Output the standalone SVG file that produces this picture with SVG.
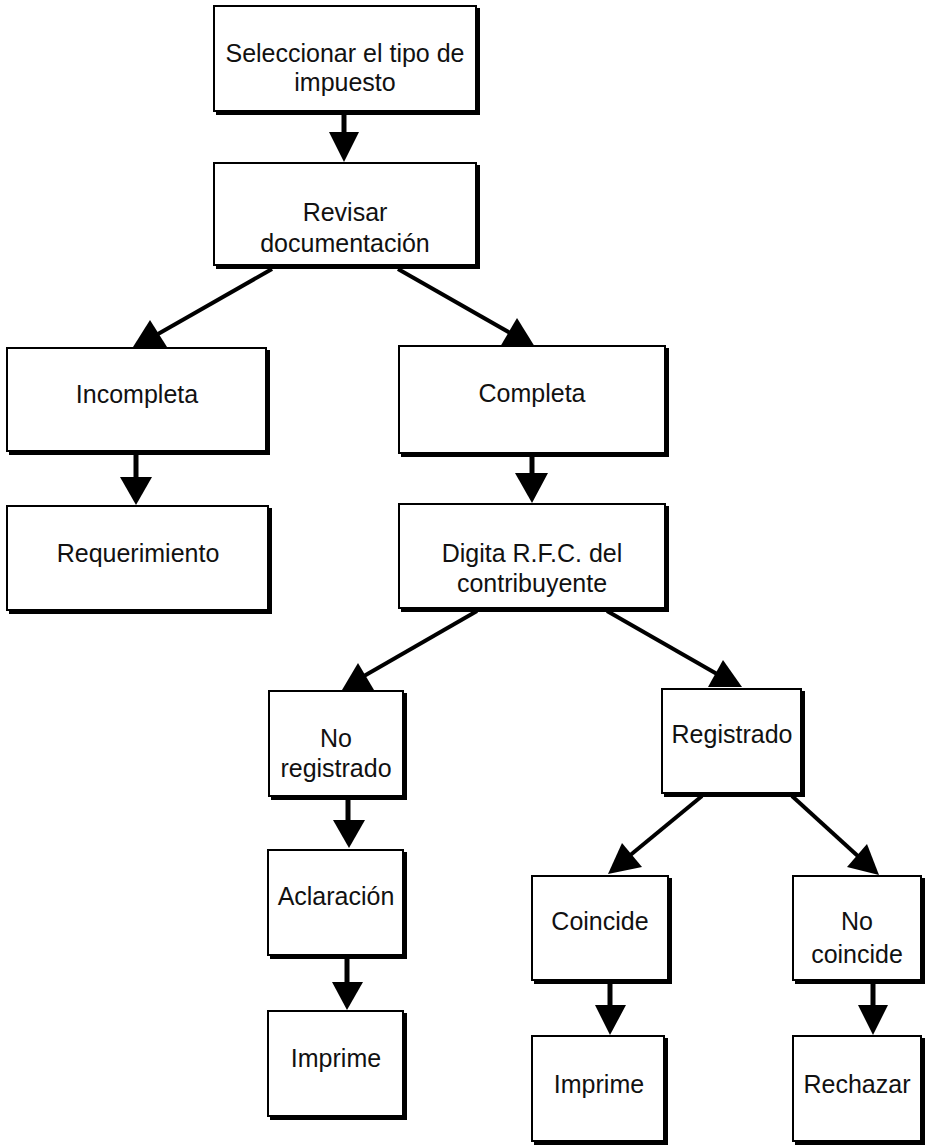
<svg xmlns="http://www.w3.org/2000/svg" width="926" height="1146" viewBox="0 0 926 1146">
<style>
.shadow{fill:#000}
.box{fill:#fff;stroke:#000;stroke-width:2}
.t{font-family:"Liberation Sans",Arial,sans-serif;font-size:25px;fill:#111;text-anchor:middle}
.ln{stroke:#000;stroke-width:4;fill:none}
.sh{stroke:#000;stroke-width:5;fill:none}
.hd{fill:#000}
</style>
<rect width="926" height="1146" fill="#fff"/>
<g id="connectors">
<line class="sh" x1="344" y1="113" x2="344" y2="135"/>
<polygon class="hd" points="329,132 359,132 344,162"/>
<line class="ln" x1="272" y1="269" x2="158" y2="334"/>
<polygon class="hd" points="150,320 133,347 167,347"/>
<line class="ln" x1="398" y1="269" x2="512" y2="334"/>
<polygon class="hd" points="517,318 500,347 535,347"/>
<line class="sh" x1="136" y1="453" x2="136" y2="480"/>
<polygon class="hd" points="120,477 152,477 136,505"/>
<line class="sh" x1="532" y1="455" x2="532" y2="476"/>
<polygon class="hd" points="515,473 548,473 532,503"/>
<line class="ln" x1="477" y1="611" x2="364" y2="676"/>
<polygon class="hd" points="358,663 342,690 374,690"/>
<line class="ln" x1="607" y1="611" x2="717" y2="674"/>
<polygon class="hd" points="723,660 708,687 742,687"/>
<line class="sh" x1="348" y1="798" x2="348" y2="823"/>
<polygon class="hd" points="333,820 365,820 349,848"/>
<line class="ln" x1="702" y1="796" x2="628" y2="857"/>
<polygon class="hd" points="622,843 642,867 608,874"/>
<line class="ln" x1="792" y1="796" x2="860" y2="858"/>
<polygon class="hd" points="867,844 847,867 879,875"/>
<line class="sh" x1="347" y1="957" x2="347" y2="985"/>
<polygon class="hd" points="332,982 363,982 347,1010"/>
<line class="sh" x1="610" y1="982" x2="610" y2="1008"/>
<polygon class="hd" points="595,1005 626,1005 610,1035"/>
<line class="sh" x1="873" y1="982" x2="873" y2="1008"/>
<polygon class="hd" points="858,1005 888,1005 873,1035"/>
</g>
<g id="n1"><rect class="shadow" x="216" y="8" width="264" height="107"/><rect class="box" x="214" y="6" width="262" height="105"/><text class="t" x="345" y="62">Seleccionar el tipo de</text><text class="t" x="345" y="91">impuesto</text></g>
<g id="n2"><rect class="shadow" x="216" y="165" width="264" height="104"/><rect class="box" x="214" y="163" width="262" height="102"/><text class="t" x="345" y="221">Revisar</text><text class="t" x="345" y="252">documentación</text></g>
<g id="n3"><rect class="shadow" x="9" y="350" width="261" height="105"/><rect class="box" x="7" y="348" width="259" height="103"/><text class="t" x="137" y="403">Incompleta</text></g>
<g id="n4"><rect class="shadow" x="401" y="348" width="268" height="109"/><rect class="box" x="399" y="346" width="266" height="107"/><text class="t" x="532" y="402">Completa</text></g>
<g id="n5"><rect class="shadow" x="9" y="508" width="263" height="106"/><rect class="box" x="7" y="506" width="261" height="104"/><text class="t" x="138" y="562">Requerimiento</text></g>
<g id="n6"><rect class="shadow" x="401" y="506" width="268" height="106"/><rect class="box" x="399" y="504" width="266" height="104"/><text class="t" x="532" y="562">Digita R.F.C. del</text><text class="t" x="532" y="592">contribuyente</text></g>
<g id="n7"><rect class="shadow" x="271" y="693" width="136" height="107"/><rect class="box" x="269" y="691" width="134" height="105"/><text class="t" x="336" y="747">No</text><text class="t" x="336" y="777">registrado</text></g>
<g id="n8"><rect class="shadow" x="664" y="691" width="141" height="106"/><rect class="box" x="662" y="689" width="139" height="104"/><text class="t" x="732" y="743">Registrado</text></g>
<g id="n9"><rect class="shadow" x="270" y="852" width="137" height="107"/><rect class="box" x="268" y="850" width="135" height="105"/><text class="t" x="336" y="905">Aclaración</text></g>
<g id="n10"><rect class="shadow" x="270" y="1013" width="137" height="107"/><rect class="box" x="268" y="1011" width="135" height="105"/><text class="t" x="336" y="1067">Imprime</text></g>
<g id="n11"><rect class="shadow" x="534" y="878" width="138" height="106"/><rect class="box" x="532" y="876" width="136" height="104"/><text class="t" x="600" y="930">Coincide</text></g>
<g id="n12"><rect class="shadow" x="534" y="1038" width="134" height="107"/><rect class="box" x="532" y="1036" width="132" height="105"/><text class="t" x="599" y="1093">Imprime</text></g>
<g id="n13"><rect class="shadow" x="795" y="878" width="130" height="106"/><rect class="box" x="793" y="876" width="128" height="104"/><text class="t" x="857" y="930">No</text><text class="t" x="857" y="963">coincide</text></g>
<g id="n14"><rect class="shadow" x="795" y="1038" width="130" height="107"/><rect class="box" x="793" y="1036" width="128" height="105"/><text class="t" x="857" y="1093">Rechazar</text></g>
</svg>
